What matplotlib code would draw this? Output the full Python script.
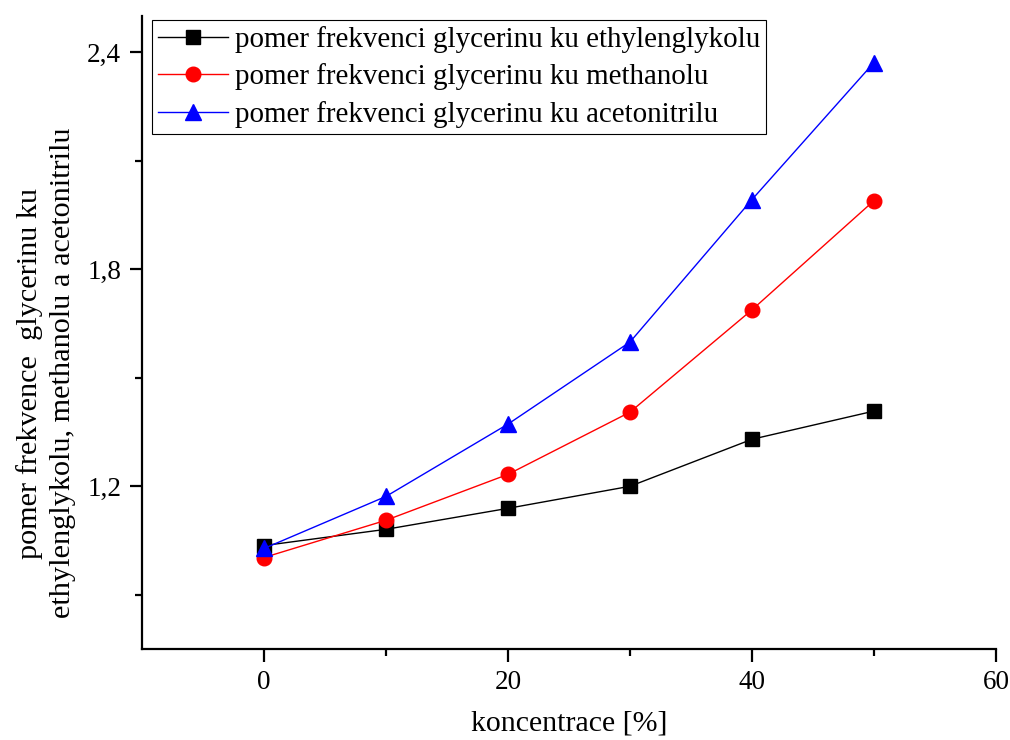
import matplotlib.pyplot as plt
from matplotlib.ticker import FixedLocator

conc = [0, 10, 20, 30, 40, 50]
ethylenglykol = [1.036, 1.081, 1.139, 1.200, 1.330, 1.408]
methanol = [1.003, 1.106, 1.233, 1.405, 1.688, 1.990]
acetonitril = [1.028, 1.172, 1.372, 1.599, 1.993, 2.372]

labels = ["pomer frekvenci glycerinu ku ethylenglykolu",
          "pomer frekvenci glycerinu ku methanolu",
          "pomer frekvenci glycerinu ku acetonitrilu"]
y_ticks = [1.2, 1.8, 2.4]
y_ticklabels = ["1,2", "1,8", "2,4"]
x_ticks = [0, 20, 40, 60]

plt.rcParams['font.family'] = ['Liberation Serif', 'DejaVu Serif']

fig = plt.figure(figsize=(10.1, 7.4), dpi=100)
ax = fig.add_axes([0.1406, 0.123, 0.8455, 0.855])

ax.plot(conc, ethylenglykol, color="black", lw=1, marker="s", ms=9.5, label=labels[0])
ax.plot(conc, methanol, color="red", lw=1, marker="o", ms=10.5, label=labels[1])
ax.plot(conc, acetonitril, color="blue", lw=1, marker="^", ms=11.5, label=labels[2])

ax.set_xlim(-10, 60)
ax.set_ylim(0.75, 2.5)
ax.xaxis.set_major_locator(FixedLocator(x_ticks))
ax.xaxis.set_minor_locator(FixedLocator([10, 30, 50]))
ax.yaxis.set_major_locator(FixedLocator(y_ticks))
ax.yaxis.set_minor_locator(FixedLocator([0.9, 1.5, 2.1]))
ax.set_yticklabels(y_ticklabels)

for s in ["top", "right"]:
    ax.spines[s].set_visible(False)
for s in ["left", "bottom"]:
    ax.spines[s].set_linewidth(1.6)

ax.tick_params(which="major", length=9, width=1.6, labelsize=19.5, pad=6)
ax.tick_params(which="minor", length=5, width=1.6)

ax.set_xlabel("koncentrace [%]", fontsize=21.5, labelpad=11)
ax.set_ylabel("pomer frekvence  glycerinu ku\nethylenglykolu, methanolu a acetonitrilu",
              fontsize=21.8, linespacing=1.35)
ax.yaxis.set_label_coords(-0.077, 0.436)

leg = ax.legend(loc="upper left", bbox_to_anchor=(0.005, 1.003), fontsize=20.9,
                frameon=True, fancybox=False, edgecolor="black", framealpha=1,
                handlelength=2.4, borderpad=0.2, labelspacing=0.36,
                handletextpad=0.25, borderaxespad=0.2)
leg.get_frame().set_linewidth(0.8)

fig.savefig("out.png", dpi=100)
